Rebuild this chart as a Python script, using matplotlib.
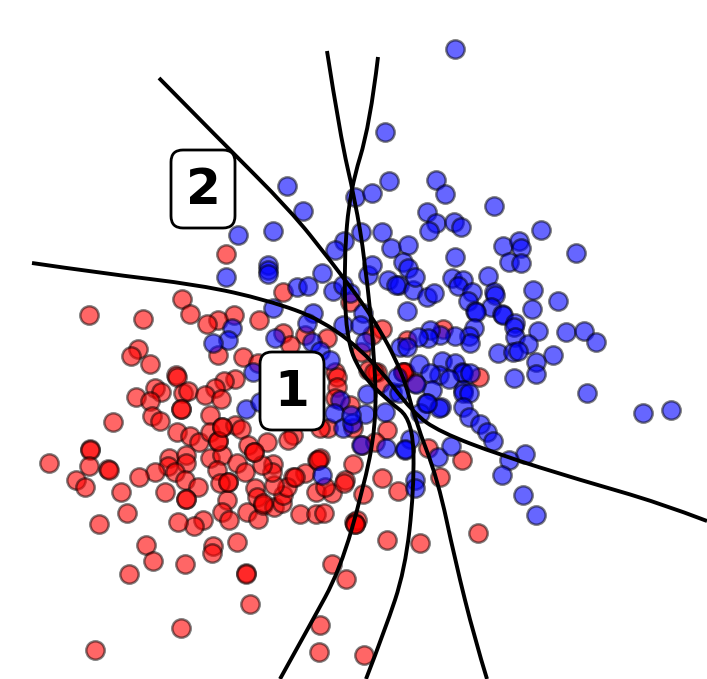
import matplotlib
matplotlib.use('Agg')
import matplotlib.pyplot as plt
from matplotlib.patches import FancyBboxPatch, PathPatch
from matplotlib.path import Path

### Точки (координаты)
blue_x = [455,385,287,303,355,372,389,436,445,494,427,436,429,454,461,541,238,273,361,382,344,335,391,408,455,503,519,521,
          576,509,521,488,452,463,458,472,494,495,468,533,558,532,491,475,476,502,503,515,514,538,566,584,596,474,469,470,
          515,528,498,513,518,553,536,536,514,587,455,440,430,428,418,442,419,455,462,463,439,430,449,470,432,416,463,463,
          469,463,469,480,487,493,426,441,439,420,410,405,438,451,525,509,502,
          226,268,268,268,297,308,322,333,343,350,368,372,388,399,413,403,408,415,396,427,434,407,273,313,307,232,228,213,
          275,312,320,330,343,363,360,365,253,246,260,400,407,392,399,367,385,365,427,397,340,334,343,352,361,386,405,322,
          415,415,523,536,643,671,351]
blue_y = [49,132,186,211,197,193,181,180,194,206,212,223,231,222,227,230,235,231,232,232,241,250,248,245,257,246,241,248,
          253,262,263,276,278,280,286,292,292,295,301,290,301,309,307,311,312,314,315,323,327,331,332,331,342,328,336,343,
          337,344,353,352,351,355,362,374,378,393,336,335,330,338,337,361,364,363,372,373,375,373,379,373,390,384,390,393,
          393,407,417,424,432,441,403,407,408,413,439,450,457,446,454,460,475,
          277,265,270,274,287,286,273,291,285,293,275,265,280,285,290,262,268,277,285,297,293,311,308,313,323,328,340,343,
          338,342,351,360,325,313,325,342,372,409,402,347,347,392,393,394,412,414,403,377,400,413,428,423,445,448,449,475,
          480,488,495,515,413,410,415]
red_x = [226,182,190,89,143,138,131,150,176,177,155,161,136,150,183,188,113,90,90,49,89,108,109,76,85,121,99,127,129,246,
         246,250,181,95,320,319,364,346,332,387,420,478,440,398,363,354,283,350,259,234,218,207,218,243,283,305,327,290,
         258,235,224,215,205,221,361,382,372,407,368,377,380,403,335,337,337,335,350,362,387,375,353,328,320,293,288,317,
         320,353,382,345,305,293,428,479,443,462,405,415,152,160,181,210,177,190,199,210,222,218,235,241,248,254,267,273,
         210,222,217,237,245,169,186,186,168,175,155,139,185,198,165,186,228,220,227,222,229,247,258,255,257,263,274,282,
         283,287,274,295,316,332,325,318,344,300,316,324,357,355,203,194,178,237,213,212,146,153,185,272,262,
         186,228,254,355,374,403,263,218,222,181]
red_y = [254,299,314,315,319,349,356,364,375,377,388,392,397,401,393,391,422,449,450,463,466,469,470,480,487,492,524,513,
         574,573,574,604,628,650,625,652,655,579,564,540,543,533,477,491,494,522,292,302,320,315,320,324,355,357,333,335,
         338,345,363,379,381,388,395,399,352,329,335,340,370,372,383,372,372,377,387,398,405,445,430,442,428,428,428,435,
         440,460,458,464,478,480,473,477,448,377,329,460,372,383,416,421,409,415,432,436,442,432,427,441,425,429,445,452,
         442,464,458,455,470,463,472,458,455,463,466,472,472,477,480,487,492,499,482,483,500,512,520,512,519,488,497,505,
         507,503,495,487,485,477,492,493,487,460,483,514,514,513,520,524,520,526,522,542,546,553,545,561,564,472,465,
         499,482,452,524,372,372,503,441,427,409]

### Кривые (контрольные точки)
curve_a_x = [159,220,290,330,373,403,415,438,455,475,487]
curve_a_y = [78,140,210,260,317,373,420,480,560,640,679]
curve_b_x = [32,100,200,267,323,373,413,440,500,580,660,707]
curve_b_y = [263,273,285,300,320,360,413,432,455,480,503,521]
curve_c_x = [378,370,350,344,346,360,387,413,414,405,385,366]
curve_c_y = [57,125,190,260,337,373,400,420,490,570,630,679]
curve_d_x = [327,340,355,365,375,376,363,340,310,280]
curve_d_y = [51,135,200,260,360,427,490,570,625,679]

labels = ['1', '2']
label_x = [292, 203]
label_y = [391, 189]

fig = plt.figure(figsize=(7.07, 6.79), dpi=100)
ax = fig.add_axes([0, 0, 1, 1])
ax.set_xlim(0, 707)
ax.set_ylim(679, 0)
ax.set_axis_off()

ax.scatter(red_x, red_y, s=175, color=(1, 0, 0, 0.6), edgecolors=(0, 0, 0, 0.5), linewidths=1.8, zorder=2)
ax.scatter(blue_x, blue_y, s=175, color=(0, 0, 1, 0.6), edgecolors=(0, 0, 0, 0.5), linewidths=1.8, zorder=3)

# Гладкая линия через контрольные точки
def smooth(xs, ys):
    pts = [(xs[0], ys[0])]
    codes = [Path.MOVETO]
    for i in range(1, len(xs) - 1):
        pts.append((xs[i], ys[i]))
        codes.append(Path.CURVE3)
        if i < len(xs) - 2:
            pts.append(((xs[i] + xs[i + 1]) / 2, (ys[i] + ys[i + 1]) / 2))
        else:
            pts.append((xs[-1], ys[-1]))
        codes.append(Path.CURVE3)
    return Path(pts, codes)

for xs, ys in [(curve_a_x, curve_a_y), (curve_b_x, curve_b_y), (curve_c_x, curve_c_y), (curve_d_x, curve_d_y)]:
    ax.add_patch(PathPatch(smooth(xs, ys), fc='none', ec='black', lw=2.8, zorder=4))

for t, x, y in zip(labels, label_x, label_y):
    ax.add_patch(FancyBboxPatch((x - 22, y - 29), 44, 58, boxstyle='round,pad=10,rounding_size=12',
                                fc='white', ec='black', lw=2, zorder=5))
    ax.text(x, y + 1, t, fontsize=36, fontweight='bold', ha='center', va='center', color='black',
            family='DejaVu Sans', zorder=6)

fig.savefig('out.png', dpi=100)
